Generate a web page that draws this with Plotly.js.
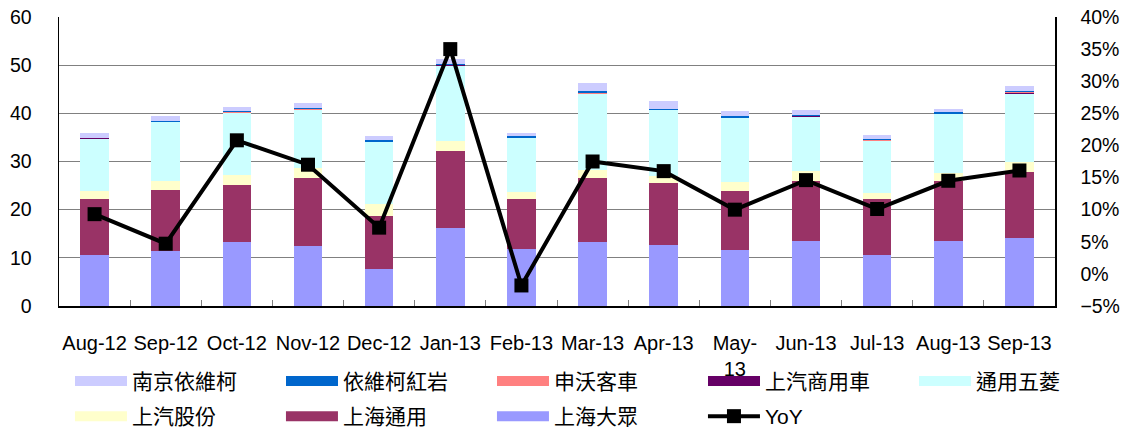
<!DOCTYPE html>
<html>
<head>
<meta charset="utf-8">
<script src="https://cdn.plot.ly/plotly-3.0.1.min.js"></script>
<style>html,body{margin:0;padding:0;background:#fff;}#chart{width:1132px;height:432px;}</style>
</head>
<body>
<div id="chart"></div>
<script>
var categories = ["Aug-12","Sep-12","Oct-12","Nov-12","Dec-12","Jan-13","Feb-13","Mar-13","Apr-13","May-13","Jun-13","Jul-13","Aug-13","Sep-13"];
var tickLabels = ["Aug-12","Sep-12","Oct-12","Nov-12","Dec-12","Jan-13","Feb-13","Mar-13","Apr-13","May-<br>13","Jun-13","Jul-13","Aug-13","Sep-13"];

var shanghaiVW      = [10.6, 11.4, 13.3, 12.5, 7.7, 16.1, 11.8, 13.3, 12.7, 11.7, 13.4, 10.6, 13.4, 14.2]; // 上海大眾
var shanghaiGM      = [11.7, 12.6, 11.9, 14.1, 11.0, 16.1, 10.5, 13.2, 12.8, 12.1, 12.6, 11.7, 12.6, 13.7]; // 上海通用
var saicMotor       = [1.5, 1.9, 1.9, 2.1, 2.5, 2.1, 1.3, 1.8, 1.5, 1.9, 2.1, 1.2, 1.6, 2.1];             // 上汽股份
var sgmw            = [10.9, 12.2, 13.0, 11.9, 12.8, 15.6, 11.2, 15.7, 13.6, 13.3, 11.2, 10.8, 12.2, 14.1]; // 通用五菱
var saicCommercial  = [0.1, 0.05, 0.05, 0.05, 0.05, 0.05, 0.05, 0.05, 0.05, 0.05, 0.05, 0.05, 0.05, 0.2];   // 上汽商用車
var sunwin          = [0.05, 0.02, 0.05, 0.25, 0.05, 0.05, 0.05, 0.25, 0.05, 0.05, 0.05, 0.05, 0.05, 0.05]; // 申沃客車
var ivecoHongyan    = [0.1, 0.3, 0.2, 0.15, 0.3, 0.3, 0.3, 0.4, 0.3, 0.3, 0.3, 0.3, 0.3, 0.2];          // 依維柯紅岩
var nanjingIveco    = [0.9, 1.0, 0.9, 1.0, 0.8, 1.0, 0.8, 1.6, 1.6, 1.1, 1.0, 0.7, 0.8, 1.1];           // 南京依維柯
var yoy             = [9.3, 4.7, 20.8, 17.0, 7.2, 35.0, -1.8, 17.5, 16.0, 10.0, 14.6, 10.1, 14.5, 16.1];   // YoY %

var barSeries = [
  {name: "上海大眾",   values: shanghaiVW,     color: "#9999FF", rank: 8, legend: "legend2"},
  {name: "上海通用",   values: shanghaiGM,     color: "#993366", rank: 7, legend: "legend2"},
  {name: "上汽股份",   values: saicMotor,      color: "#FFFFCC", rank: 6, legend: "legend2"},
  {name: "通用五菱",   values: sgmw,           color: "#CCFFFF", rank: 5, legend: "legend"},
  {name: "上汽商用車", values: saicCommercial, color: "#660066", rank: 4, legend: "legend"},
  {name: "申沃客車",   values: sunwin,         color: "#FF8080", rank: 3, legend: "legend"},
  {name: "依維柯紅岩", values: ivecoHongyan,   color: "#0066CC", rank: 2, legend: "legend"},
  {name: "南京依維柯", values: nanjingIveco,   color: "#CCCCFF", rank: 1, legend: "legend"}
];

var traces = [];
barSeries.forEach(function(s){
  traces.push({
    type: "bar", name: s.name, x: categories, y: s.values,
    marker: {color: s.color, line: {width: 0}},
    showlegend: false, hoverinfo: "skip"
  });
});
// legend swatches (wide colour bars like the original legend); they draw no marks in the plot
barSeries.forEach(function(s){
  traces.push({
    type: "scatter", mode: "lines", name: s.name, x: [null], y: [null],
    line: {color: s.color, width: 10},
    legend: s.legend, legendrank: s.rank, hoverinfo: "skip"
  });
});
traces.push({
  type: "scatter", mode: "lines+markers", name: "YoY", x: categories, y: yoy, yaxis: "y2",
  line: {color: "#000000", width: 4},
  marker: {symbol: "square", size: 14, color: "#000000"},
  legend: "legend2", legendrank: 9, hoverinfo: "skip"
});

var baseFont = "Liberation Sans, Arial, Noto Sans CJK TC, sans-serif";
var legendFont = {family: "Liberation Sans, Noto Sans CJK TC, sans-serif", size: 21, color: "#000000"};
var layout = {
  width: 1132, height: 432,
  margin: {l: 59, r: 77, t: 17, b: 126, pad: 0},
  paper_bgcolor: "#ffffff", plot_bgcolor: "#ffffff",
  barmode: "stack", bargap: 0.6,
  font: {family: baseFont, size: 20, color: "#000000"},
  xaxis: {
    type: "category", range: [-0.5, 13.5], tickvals: categories, ticktext: tickLabels, tickangle: 0,
    showline: true, linecolor: "#000000", linewidth: 1.5,
    ticks: "inside", tickson: "boundaries", ticklen: 6, tickcolor: "#808080",
    showgrid: false, zeroline: false, ticklabelstandoff: 18,
    tickfont: {family: baseFont, size: 20}
  },
  yaxis: {
    range: [0, 60], dtick: 10, showgrid: true, gridcolor: "#808080", gridwidth: 1,
    showline: true, linecolor: "#000000", linewidth: 1.5, zeroline: false,
    ticks: "", ticklabelstandoff: 22, tickfont: {family: baseFont, size: 19.5}
  },
  yaxis2: {
    range: [-5, 40], dtick: 5, ticksuffix: "%", overlaying: "y", side: "right",
    showgrid: false, showline: true, linecolor: "#000000", linewidth: 1.5, zeroline: false,
    ticks: "", ticklabelstandoff: 20, tickfont: {family: baseFont, size: 19.5}
  },
  showlegend: true,
  legend: {
    orientation: "h", x: -0.001, xanchor: "left", y: -0.19, yanchor: "top",
    entrywidth: 132, entrywidthmode: "pixels", itemwidth: 52, indentation: 12,
    traceorder: "normal", tracegroupgap: 0, font: legendFont, bgcolor: "rgba(0,0,0,0)"
  },
  legend2: {
    orientation: "h", xref: "container", yref: "container",
    x: 0.0512, xanchor: "left", y: 0.0833, yanchor: "top",
    entrywidth: 132, entrywidthmode: "pixels", itemwidth: 52, indentation: 12,
    traceorder: "normal", tracegroupgap: 0, font: legendFont, bgcolor: "rgba(0,0,0,0)"
  }
};

Plotly.newPlot("chart", traces, layout, {staticPlot: true, displayModeBar: false});
</script>
</body>
</html>
